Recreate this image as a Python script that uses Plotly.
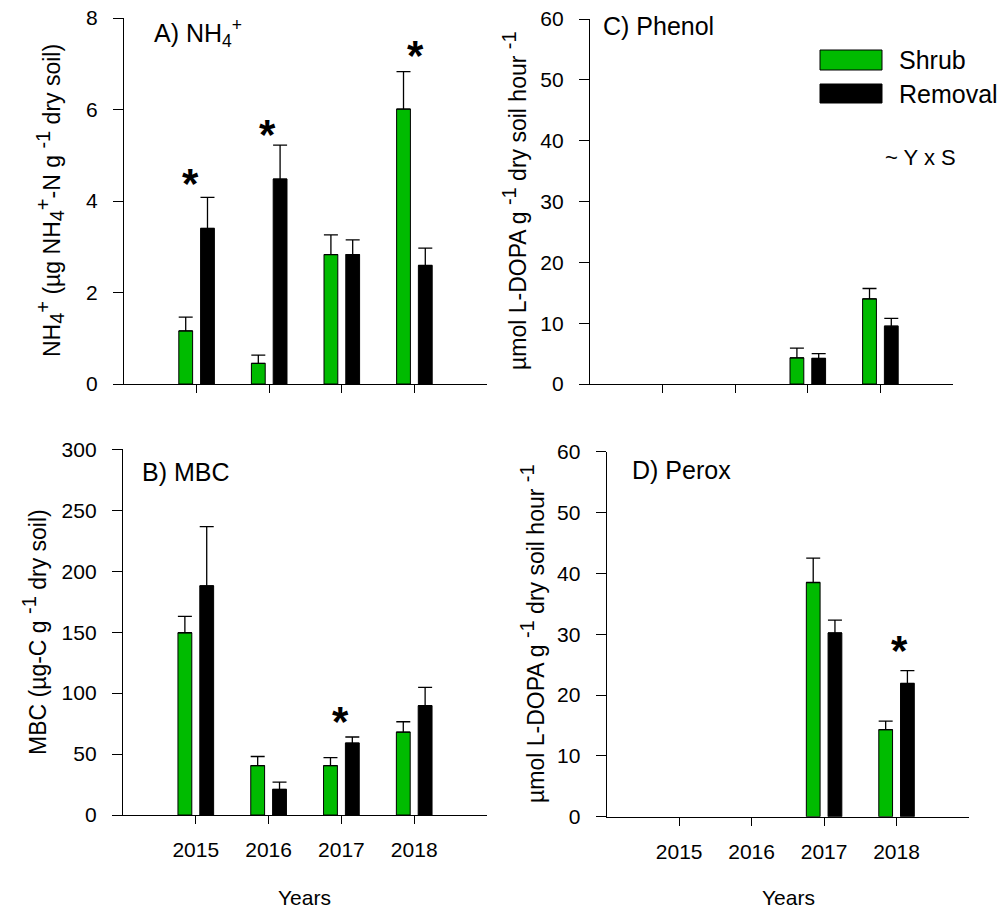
import plotly.graph_objects as go

W, H = 1001, 911

years = [2015, 2016, 2017, 2018]

# A) NH4+
nh4_shrub = [1.16, 0.45, 2.83, 6.01]
nh4_shrub_se = [0.30, 0.18, 0.43, 0.82]
nh4_removal = [3.40, 4.48, 2.83, 2.59]
nh4_removal_se = [0.68, 0.74, 0.32, 0.38]
nh4_star_x = [2014.91, 2015.97, 2018.01]
nh4_star_y = [4.57, 5.66, 7.37]

# B) MBC
mbc_shrub = [149.5, 40.5, 40.5, 68.0]
mbc_shrub_se = [13.5, 7.5, 6.5, 8.5]
mbc_removal = [188.0, 21.0, 59.0, 89.7]
mbc_removal_se = [48.5, 6.0, 5.0, 15.0]
mbc_star_x = [2016.99]
mbc_star_y = [84.0]

# C) Phenol
phenol_shrub = [None, None, 4.3, 14.0]
phenol_shrub_se = [0, 0, 1.6, 1.7]
phenol_removal = [None, None, 4.2, 9.5]
phenol_removal_se = [0, 0, 0.8, 1.3]

# D) Perox
perox_shrub = [None, None, 38.5, 14.3]
perox_shrub_se = [0, 0, 4.0, 1.4]
perox_removal = [None, None, 30.2, 21.9]
perox_removal_se = [0, 0, 2.1, 2.1]
perox_star_x = [2018.04]
perox_star_y = [28.8]

nh4_ticks = [0, 2, 4, 6, 8]
mbc_ticks = [0, 50, 100, 150, 200, 250, 300]
enz_ticks = [0, 10, 20, 30, 40, 50, 60]

GREEN = "#00BB00"
FONT = "Liberation Sans, Arial, sans-serif"

fig = go.Figure()


def add_pair(shrub, shrub_se, rem, rem_se, xa, ya):
    fig.add_trace(go.Bar(
        x=years, y=shrub, width=0.19, offset=-0.245,
        marker=dict(color=GREEN, line=dict(color="black", width=1)),
        error_y=dict(type="data", array=shrub_se, arrayminus=[0] * 4, symmetric=False,
                     color="black", thickness=1.3, width=7),
        xaxis=xa, yaxis=ya, showlegend=False, name="Shrub"))
    fig.add_trace(go.Bar(
        x=years, y=rem, width=0.19, offset=0.055,
        marker=dict(color="black", line=dict(color="black", width=1)),
        error_y=dict(type="data", array=rem_se, arrayminus=[0] * 4, symmetric=False,
                     color="black", thickness=1.3, width=7),
        xaxis=xa, yaxis=ya, showlegend=False, name="Removal"))


add_pair(nh4_shrub, nh4_shrub_se, nh4_removal, nh4_removal_se, "x", "y")
add_pair(phenol_shrub, phenol_shrub_se, phenol_removal, phenol_removal_se, "x2", "y2")
add_pair(mbc_shrub, mbc_shrub_se, mbc_removal, mbc_removal_se, "x3", "y3")
add_pair(perox_shrub, perox_shrub_se, perox_removal, perox_removal_se, "x4", "y4")


def px_x(p):
    return p / W


def px_y(p):
    return 1 - p / H


common_axis = dict(showline=True, linecolor="black", linewidth=1.3, ticks="outside",
                   tickcolor="black", tickwidth=1.3, showgrid=False, zeroline=False,
                   automargin=False,
                   tickfont=dict(family=FONT, size=21, color="black"), mirror=False)

domains = {
    "A": ([px_x(124), px_x(487)], [px_y(384), px_y(18)]),
    "C": ([px_x(590), px_x(953)], [px_y(384), px_y(19)]),
    "B": ([px_x(123), px_x(487)], [px_y(815), px_y(449.3)]),
    "D": ([px_x(606.7), px_x(969)], [px_y(816.7), px_y(451.7)]),
}


def xax(dom, anchor, labels):
    d = dict(common_axis)
    d.update(domain=dom, anchor=anchor, range=[2014, 2019], tickvals=years,
             ticktext=[str(y) for y in years], showticklabels=labels, ticklen=8,
             ticklabelstandoff=8)
    return d


def yax(dom, anchor, rng, ticks):
    d = dict(common_axis)
    d.update(domain=dom, anchor=anchor, range=rng, tickvals=ticks, ticklen=10,
             ticklabelstandoff=11)
    return d


fig.update_layout(
    template="none",
    width=W, height=H, margin=dict(l=0, r=0, t=0, b=0, pad=0, autoexpand=False),
    paper_bgcolor="white", plot_bgcolor="white", barmode="overlay", showlegend=False,
    font=dict(family=FONT, color="black"),
    xaxis=xax(domains["A"][0], "y", False),
    yaxis=yax(domains["A"][1], "x", [0, 8], nh4_ticks),
    xaxis2=xax(domains["C"][0], "y2", False),
    yaxis2=yax(domains["C"][1], "x2", [0, 60], enz_ticks),
    xaxis3=xax(domains["B"][0], "y3", True),
    yaxis3=yax(domains["B"][1], "x3", [0, 300], mbc_ticks),
    xaxis4=xax(domains["D"][0], "y4", True),
    yaxis4=yax(domains["D"][1], "x4", [0, 60], enz_ticks),
)

ann = []
# significance stars
for xs, ys, xr, yr in [(nh4_star_x, nh4_star_y, "x", "y"),
                       (mbc_star_x, mbc_star_y, "x3", "y3"),
                       (perox_star_x, perox_star_y, "x4", "y4")]:
    for sx, sy in zip(xs, ys):
        ann.append(dict(x=sx, y=sy, xref=xr, yref=yr, text="<b>*</b>", showarrow=False,
                        font=dict(family=FONT, size=42, color="black"),
                        xanchor="center", yanchor="middle", yshift=-9))

# panel titles
titles = [("A) NH<sub>4</sub><sup>+</sup>", 152, 33),
          ("C) Phenol", 601, 26),
          ("B) MBC", 140, 472),
          ("D) Perox", 630, 470)]
for t, x, y in titles:
    ann.append(dict(x=px_x(x), y=px_y(y), xref="paper", yref="paper", text=t,
                    showarrow=False, xanchor="left", yanchor="middle",
                    font=dict(family=FONT, size=25, color="black")))


def sup(s):
    return '<sup><span style="font-size:20px">%s</span></sup>' % s


def sub(s):
    return '<sub><span style="font-size:20px">%s</span></sub>' % s


# axis titles
enz_title = "µmol L-DOPA g " + sup("-1") + " dry soil hour " + sup("-1")
nh4_title = ("NH" + sub("4") + sup("+") + " (µg NH" + sub("4") + sup("+") +
             "-N g " + sup("-1") + " dry soil)")
mbc_title = "MBC (µg-C g " + sup("-1") + " dry soil)"
ytitles = [(nh4_title, 50, 201),
           (enz_title, 514, 201),
           (mbc_title, 34, 632),
           (enz_title, 532, 634)]
for t, x, y in ytitles:
    ann.append(dict(x=px_x(x), y=px_y(y), xref="paper", yref="paper", text=t,
                    showarrow=False, textangle=-90, xanchor="center", yanchor="middle",
                    font=dict(family=FONT, size=23, color="black")))
for x in [304, 788]:
    ann.append(dict(x=px_x(x), y=px_y(897), xref="paper", yref="paper", text="Years",
                    showarrow=False, xanchor="center", yanchor="middle",
                    font=dict(family=FONT, size=21, color="black")))

# legend (manual)
shapes = [
    dict(type="rect", xref="paper", yref="paper", x0=px_x(820), x1=px_x(882),
         y0=px_y(70), y1=px_y(50), fillcolor=GREEN, line=dict(color="black", width=1)),
    dict(type="rect", xref="paper", yref="paper", x0=px_x(820), x1=px_x(882),
         y0=px_y(103), y1=px_y(84), fillcolor="black", line=dict(color="black", width=1)),
]
for t, y in [("Shrub", 60), ("Removal", 94)]:
    ann.append(dict(x=px_x(897), y=px_y(y), xref="paper", yref="paper", text=t,
                    showarrow=False, xanchor="left", yanchor="middle",
                    font=dict(family=FONT, size=25, color="black")))
ann.append(dict(x=px_x(883), y=px_y(157), xref="paper", yref="paper", text="~ Y x S",
                showarrow=False, xanchor="left", yanchor="middle",
                font=dict(family=FONT, size=22, color="black")))

fig.update_layout(annotations=ann, shapes=shapes)
fig.write_html("out.html")
